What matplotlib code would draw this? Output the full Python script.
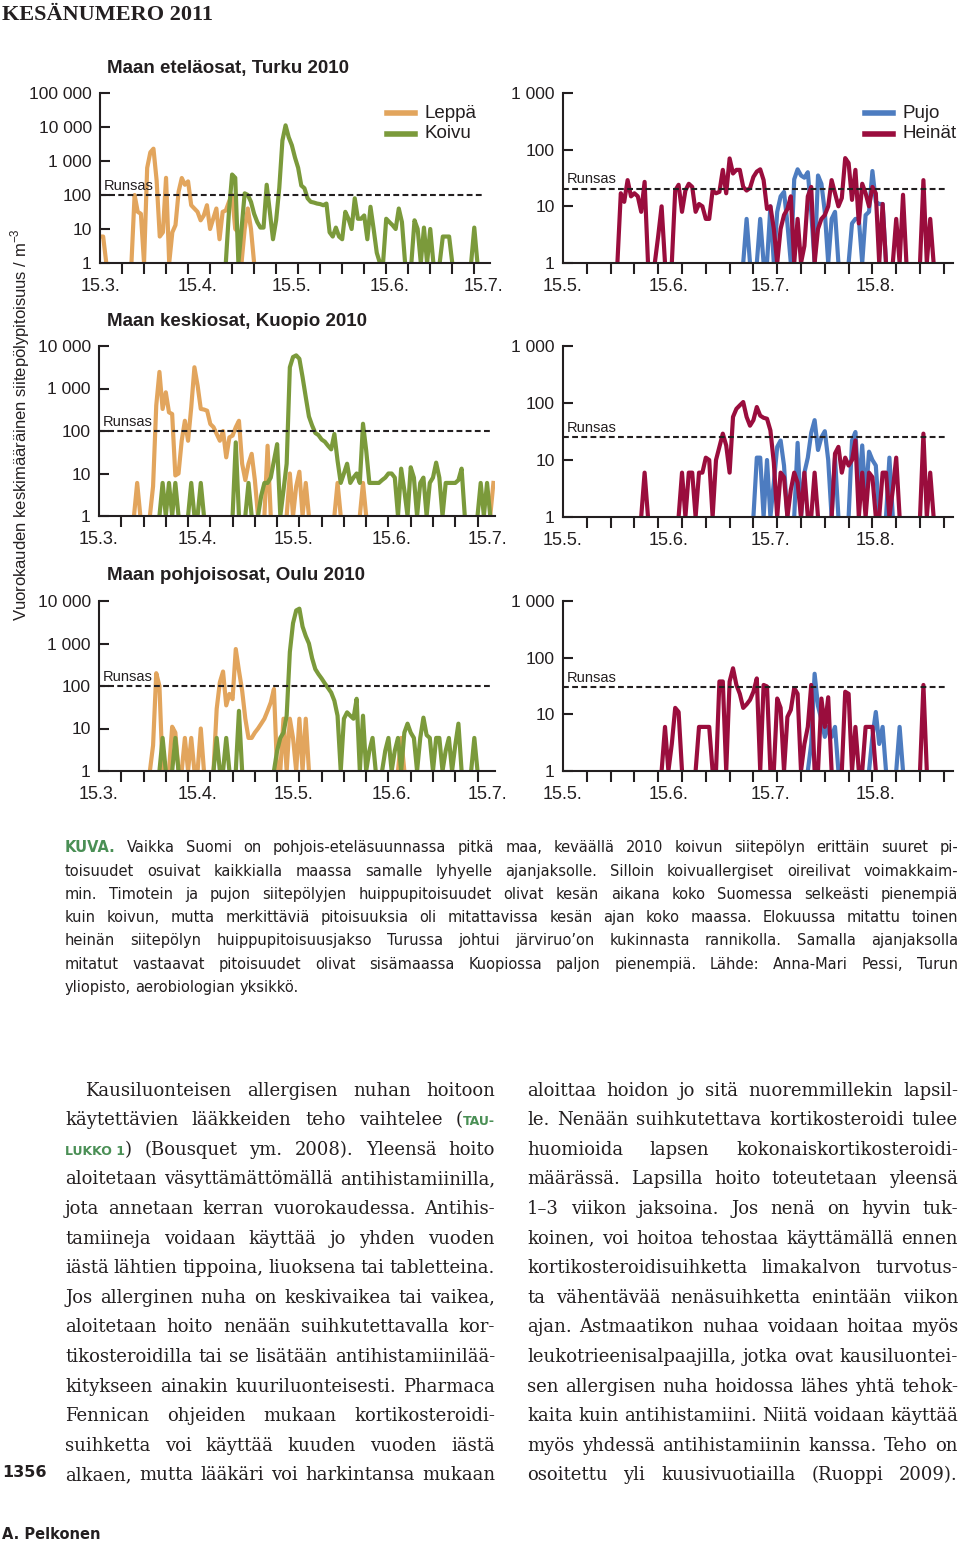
import re
import numpy as np
import matplotlib
matplotlib.use('Agg')
import matplotlib.pyplot as plt
import matplotlib.dates as mdates
from matplotlib.lines import Line2D
from matplotlib.ticker import NullLocator

NARROW = ['DejaVu Sans Condensed', 'Liberation Sans', 'DejaVu Sans']
SANS = ['DejaVu Sans']
SERIF = ['DejaVu Serif']
plt.rcParams['font.family'] = NARROW
plt.rcParams['text.color'] = '#231f20'
plt.rcParams['axes.edgecolor'] = '#231f20'
plt.rcParams['xtick.color'] = '#231f20'
plt.rcParams['ytick.color'] = '#231f20'

LEPPA = '#e2a55d'
KOIVU = '#7b9a3b'
PUJO = '#4d7cc0'
HEINAT = '#9a0d3d'
GREEN_TXT = '#4a8f55'

# --- data: daily mean pollen counts / m3 (0 = none, None = no line) ---
left_months = ['2010-03-15', '2010-04-15', '2010-05-15', '2010-06-15', '2010-07-15']
left_month_labels = ['15.3.', '15.4.', '15.5.', '15.6.', '15.7.']
right_months = ['2010-05-15', '2010-06-15', '2010-07-15', '2010-08-15']
right_month_labels = ['15.5.', '15.6.', '15.7.', '15.8.']

ticks_big = [1, 10, 100, 1000, 10000, 100000]
ticks_big_labels = ['1', '10', '100', '1 000', '10 000', '100 000']
ticks_mid = [1, 10, 100, 1000, 10000]
ticks_mid_labels = ['1', '10', '100', '1 000', '10 000']
ticks_small = [1, 10, 100, 1000]
ticks_small_labels = ['1', '10', '100', '1 000']

# Turku
turku_leppa_start = '2010-03-15'
turku_leppa = [6, 6, 0, None, None, None, None, None, None, None,
               0, 100, 32, 28, 0, 630, 1800, 2300, 270, 6,
               8, 320, 0, 8, 13, 126, 316, 200, 251, 50,
               40, 32, 18, 25, 50, 10, 20, 40, 5, 32,
               35, 63, 100, 10, 8, 0, 10, 40, 10, 0]
turku_koivu_start = '2010-04-24'
turku_koivu = [0, 32, 400, 320, 0, 10, 112, 100, 63, 28,
               16, 11, 11, 200, 32, 5, 18, 160, 4000, 11200,
               5000, 2900, 1260, 630, 190, 158, 80, 63, 60, 56,
               54, 50, 56, 8, 6, 11, 6, 5, 32, 20,
               10, 80, 20, 20, 25, 5, 45, 10, 2, 0,
               0, 20, 16, 13, 10, 40, 16, 0, None, 0,
               18, 10, 0, 11, 0, 10, 0, None, 0, 6,
               6, 6, 0, None, None, None, None, None, 0, 11,
               0]
turku_heinat_start = '2010-05-31'
turku_heinat = [0, 17, 12, 29, 15, 17, 15, 8, 27, 0,
                None, 0, 3, 10, 0, None, 0, 19, 24, 8,
                19, 25, 22, 8, 11, 10, 6, 6, 19, 17,
                18, 44, 17, 70, 38, 44, 44, 22, 19, 21,
                33, 41, 45, 29, 9, 10, 4, 0, 4, 7,
                9, 15, 0, 6, 0, 2, 15, 22, 0, 4,
                6, 7, 10, 29, 17, 10, 14, 71, 58, 13,
                44, 5, 25, 17, 10, 22, 17, 0, 11, 0,
                None, 0, 6, 0, 16, 0, None, None, None, 0,
                29, 0, 6, 0]
turku_pujo_start = '2010-07-07'
turku_pujo = [0, 6, 0, None, 0, 6, 0, 0, 10, 0,
              8, 15, 18, 5, 0, 30, 45, 35, 32, 40,
              8, 0, 35, 25, 8, 0, 6, 8, 0, None,
              None, 0, 5, 6, 6, 0, 7, 8, 42, 12,
              11, 11, 0]

# Kuopio
kuopio_leppa_start = '2010-03-26'
kuopio_leppa = ([0, 6, 0, None, None, 0, 5, 400, 2455, 330,
                 813, 275, 251, 9, 10, 59, 174, 59, 360, 3160,
                 1175, 331, 320, 300, 146, 123, 85, 59, 100, 24,
                 71, 78, 123, 174, 17, 7, 17, 29, 7, 0,
                 None, 0, 45, 0, None, None, None, None, 0, 10,
                 0, 5, 11, 0, 6, 0]
                + [None] * 7 + [0, 6, 0] + [None] * 5 + [0, 6, 0]
                + [None] * 38 + [0, 6])
kuopio_koivu_start = '2010-04-03'
kuopio_koivu = ([0, 6, 0, 6, 0, 6, 0, None, None,
                 0, 6, 0, 0, 6, 0]
                + [None] * 8
                + [0, 54, 0, None, 0, 6, 0, None,
                   0, 3, 6, 6, 8, 20, 49, 0, 4, 17,
                   3160, 5500, 6026, 5000, 1862, 630, 220, 135, 90, 80,
                   63, 56, 45, 37, 85, 20, 6, 10, 17, 6,
                   8, 10, 6, 148, 35, 6, 6, 6, 6, 7,
                   8, 10, 10, 8, 0, 13, 4, 0, 14, 8,
                   0, 6, 8, 0, 6, 8, 18, 8, 0, 6,
                   6, 6, 6, 7, 13, 0, None, None, None,
                   0, 6, 0, 6, 0])
kuopio_heinat_start = '2010-06-07'
kuopio_heinat = ([0, 6, 0] + [None] * 8
                 + [0, 6, 0, 6, 6, 0, 6, 6, 11, 10,
                    0, 10, 17, 29, 18, 6, 57, 79, 91, 104,
                    57, 40, 50, 85, 60, 55, 53, 33, 9, 0,
                    6, 5, 0, 3, 6, 4, 0, 6, 0, 0, 6, 0,
                    None, None, None,
                    0, 13, 17, 6, 11, 8, 10, 22, 0, 6,
                    0, 6, 5, 0, 0, 6, 6, 0, 3, 11, 0]
                 + [None] * 5 + [0, 29, 0, 6, 0])
kuopio_pujo_start = '2010-07-10'
kuopio_pujo = [0, 11, 11, 0, 10, 0, 4, 17, 22, 8,
               0, None, 0, 20, 0, 6, 11, 30, 50, 15,
               25, 32, 10, 0, 11, 0, None, None, 0, 22,
               31, 3, 18, 2, 14, 10, 8, 0, None, 0,
               11, 0]

# Oulu
oulu_leppa_start = '2010-03-31'
oulu_leppa = ([0, 4, 200, 100, 0, None, 0, 11, 8, 0,
               0, 6, 0, 6, 0, 0, 10, 0, None, None,
               0, 29, 123, 219, 35, 65, 49, 741, 229, 78,
               17, 6, 6, 8, 10, 13, 17, 26, 41, 85,
               0, 0, 17, 0, 17, 6, 0, 17, 0, 17, 0]
              + [None] * 27 + [0, 6, 0])
oulu_koivu_start = '2010-04-03'
oulu_koivu = ([0, 6, 0, None, 0, 6, 0] + [None] * 10
              + [0, 6, 0, 0, 6, 0, None, 0, 26, 0] + [None] * 9
              + [0, 3, 6, 8, 20, 631, 3000, 6000, 6600, 2500,
                 1500, 1000, 450, 250, 190, 150, 115, 90, 70, 45,
                 20, 0, 17, 24, 20, 17, 50, 0, 20, 0,
                 3, 6, 0, None, 0, 3, 6, 0, 3, 6,
                 0, 8, 13, 8, 6, 0, 6, 18, 7, 6,
                 0, 6, 6, 0, 3, 6, 0, 4, 13, 0,
                 None, None, 0, 6, 0])
oulu_heinat_start = '2010-06-13'
oulu_heinat = ([0, 6, 0, 3, 13, 11, 0, None, None, None,
                0, 6, 6, 6, 6, 0, 0, 38, 38, 0,
                38, 65, 33, 23, 13, 15, 18, 25, 43, 0,
                33, 31, 0, 0, 19, 13, 0, 9, 12, 29,
                23, 0, 3, 6, 33, 0, 0, 19, 6, 20, 0,
                None, None,
                0, 25, 23, 0, 6, 0, 0, 6, 6, 6, 0]
               + [None] * 12 + [0, 33, 0])
oulu_pujo_start = '2010-07-26'
oulu_pujo = ([0, 3, 52, 14, 8, 4, 6, 4, 6, 0] + [None] * 8
             + [0, 4, 11, 3, 6, 0, None, None, 0, 6, 0])

runsas = {'tl': 100, 'tr': 20, 'ml': 100, 'mr': 25, 'bl': 100, 'br': 30}

W, H = 960, 1543
fig = plt.figure(figsize=(W / 100, H / 100), dpi=100)


def fy(y):
    return 1 - y / H


def panel(rect, start, span, yt, ytl, months, mlabels, series, limit):
    x0, y0, x1, y1 = rect
    ax = fig.add_axes([x0 / W, fy(y1), (x1 - x0) / W, (y1 - y0) / H])
    t0 = mdates.date2num(np.datetime64(start))
    for s, vals, color in series:
        v = np.array(vals, dtype=float)
        v[v == 0] = 1
        x = mdates.date2num(np.datetime64(s)) + np.arange(len(v))
        ax.plot(x, v, color=color, lw=3)
    ax.set_yscale('log')
    ax.set_ylim(1, yt[-1])
    ax.set_xlim(t0, t0 + span)
    ax.set_yticks(yt)
    ax.set_yticklabels(ytl)
    ax.yaxis.set_minor_locator(NullLocator())
    ax.set_xticks([mdates.date2num(np.datetime64(m)) for m in months])
    ax.set_xticklabels(mlabels)
    ax.set_xticks(np.arange(t0, t0 + span, 7), minor=True)
    ax.tick_params(axis='y', direction='in', length=7, width=1.5, pad=6, labelsize=12.5)
    ax.tick_params(axis='x', which='major', length=0, pad=11, labelsize=13)
    ax.tick_params(axis='x', which='minor', direction='out', length=8, width=1.5)
    for side in ('top', 'right'):
        ax.spines[side].set_visible(False)
    for side in ('left', 'bottom'):
        ax.spines[side].set_linewidth(1.5)
    ax.patch.set_visible(False)
    ax.axhline(limit, xmin=0, xmax=0.987, color='#231f20', lw=1.5, ls=(0, (2.8, 1.6)))
    ax.text(t0 + span * 0.01, limit * 1.12, 'Runsas', fontsize=10.5, va='bottom', ha='left')
    return ax


panel((100, 93, 490, 263), '2010-03-15', 124, ticks_big, ticks_big_labels,
      left_months, left_month_labels,
      [(turku_leppa_start, turku_leppa, LEPPA), (turku_koivu_start, turku_koivu, KOIVU)],
      runsas['tl'])
panel((563, 93, 953, 263), '2010-05-15', 114.7, ticks_small, ticks_small_labels,
      right_months, right_month_labels,
      [(turku_pujo_start, turku_pujo, PUJO), (turku_heinat_start, turku_heinat, HEINAT)],
      runsas['tr'])
panel((99, 346, 495, 516), '2010-03-15', 124.5, ticks_mid, ticks_mid_labels,
      left_months, left_month_labels,
      [(kuopio_leppa_start, kuopio_leppa, LEPPA), (kuopio_koivu_start, kuopio_koivu, KOIVU)],
      runsas['ml'])
panel((563, 346, 953, 517), '2010-05-15', 114.7, ticks_small, ticks_small_labels,
      right_months, right_month_labels,
      [(kuopio_pujo_start, kuopio_pujo, PUJO), (kuopio_heinat_start, kuopio_heinat, HEINAT)],
      runsas['mr'])
panel((99, 601, 495, 771), '2010-03-15', 124.5, ticks_mid, ticks_mid_labels,
      left_months, left_month_labels,
      [(oulu_leppa_start, oulu_leppa, LEPPA), (oulu_koivu_start, oulu_koivu, KOIVU)],
      runsas['bl'])
panel((563, 601, 953, 771), '2010-05-15', 114.7, ticks_small, ticks_small_labels,
      right_months, right_month_labels,
      [(oulu_pujo_start, oulu_pujo, PUJO), (oulu_heinat_start, oulu_heinat, HEINAT)],
      runsas['br'])

# titles, legends, axis label
for y, t in [(68, 'Maan eteläosat, Turku 2010'), (321, 'Maan keskiosat, Kuopio 2010'),
             (576, 'Maan pohjoisosat, Oulu 2010')]:
    fig.text(107 / W, fy(y), t, va='center', ha='left', fontsize=13.5, weight='bold')


def legend(items, x, y):
    for i, (name, color) in enumerate(items):
        yy = y + i * 21
        fig.add_artist(Line2D([x / W, (x + 28) / W], [fy(yy), fy(yy)], color=color, lw=4))
        fig.text((x + 38) / W, fy(yy), name, va='center', fontsize=13.5)


legend([('Leppä', LEPPA), ('Koivu', KOIVU)], 387, 113)
legend([('Pujo', PUJO), ('Heinät', HEINAT)], 865, 113)

fig.text(20 / W, fy(425), r'Vuorokauden keskimääräinen siitepölypitoisuus / m$^{\mathregular{-3}}$',
         rotation=90, va='center', ha='center', fontsize=12)

fig.text(2 / W, fy(20), 'KESÄNUMERO 2011', family=['Liberation Serif', 'DejaVu Serif'],
         weight='bold', fontsize=16, va='baseline')

# --- running text ---
renderer = fig.canvas.get_renderer()
styles = {
    'cap': dict(family=SANS, fontsize=10.5),
    'kuva': dict(family=SANS, fontsize=10.5, weight='bold', color=GREEN_TXT),
    'body': dict(family=SERIF, fontsize=13),
    'sc': dict(family=SANS, fontsize=9, weight='bold', color=GREEN_TXT),
}


def set_line(line, base, accent, x0, x1, y, justify=True):
    segs = []
    for part in re.split(r'(\{[^}]*\})', line):
        if part.startswith('{'):
            segs.append((part[1:-1].replace(' ', '\u00a0'), accent))
        elif part:
            segs.append((part, base))
    words, new = [], True
    for text, st in segs:
        for i, p in enumerate(text.split(' ')):
            if i > 0:
                new = True
            if p == '':
                continue
            if new:
                words.append([])
                new = False
            words[-1].append((p, st))
    items = []
    for w in words:
        pieces = []
        for p, st in w:
            t = fig.text(0, fy(y), p, va='baseline', ha='left', **styles[st])
            pieces.append((t, t.get_window_extent(renderer).width))
        items.append(pieces)
    total = sum(wd for pcs in items for _, wd in pcs)
    size = styles[base]['fontsize'] * 100 / 72
    gap = (x1 - x0 - total) / max(len(items) - 1, 1) if justify else size * 0.3
    x = x0
    for pcs in items:
        for t, wd in pcs:
            t.set_x(x / W)
            x += wd
        x += gap


caption = [
    '{KUVA.} Vaikka Suomi on pohjois-eteläsuunnassa pitkä maa, keväällä 2010 koivun siitepölyn erittäin suuret pi-',
    'toisuudet osuivat kaikkialla maassa samalle lyhyelle ajanjaksolle. Silloin koivuallergiset oireilivat voimakkaim-',
    'min. Timotein ja pujon siitepölyjen huippupitoisuudet olivat kesän aikana koko Suomessa selkeästi pienempiä',
    'kuin koivun, mutta merkittäviä pitoisuuksia oli mitattavissa kesän ajan koko maassa. Elokuussa mitattu toinen',
    'heinän siitepölyn huippupitoisuusjakso Turussa johtui järviruo’on kukinnasta rannikolla. Samalla ajanjaksolla',
    'mitatut vastaavat pitoisuudet olivat sisämaassa Kuopiossa paljon pienempiä. Lähde: Anna-Mari Pessi, Turun',
    'yliopisto, aerobiologian yksikkö.',
]
for i, line in enumerate(caption):
    set_line(line, 'cap', 'kuva', 65, 958, 852.3 + i * 23.3, justify=i < len(caption) - 1)

left_col = [
    'Kausiluonteisen allergisen nuhan hoitoon',
    'käytettävien lääkkeiden teho vaihtelee ({TAU-}',
    '{LUKKO 1}) (Bousquet ym. 2008). Yleensä hoito',
    'aloitetaan väsyttämättömällä antihistamiinilla,',
    'jota annetaan kerran vuorokaudessa. Antihis-',
    'tamiineja voidaan käyttää jo yhden vuoden',
    'iästä lähtien tippoina, liuoksena tai tabletteina.',
    'Jos allerginen nuha on keskivaikea tai vaikea,',
    'aloitetaan hoito nenään suihkutettavalla kor-',
    'tikosteroidilla tai se lisätään antihistamiinilää-',
    'kitykseen ainakin kuuriluonteisesti. Pharmaca',
    'Fennican ohjeiden mukaan kortikosteroidi-',
    'suihketta voi käyttää kuuden vuoden iästä',
    'alkaen, mutta lääkäri voi harkintansa mukaan',
]
right_col = [
    'aloittaa hoidon jo sitä nuoremmillekin lapsil-',
    'le. Nenään suihkutettava kortikosteroidi tulee',
    'huomioida lapsen kokonaiskortikosteroidi-',
    'määrässä. Lapsilla hoito toteutetaan yleensä',
    '1–3 viikon jaksoina. Jos nenä on hyvin tuk-',
    'koinen, voi hoitoa tehostaa käyttämällä ennen',
    'kortikosteroidisuihketta limakalvon turvotus-',
    'ta vähentävää nenäsuihketta enintään viikon',
    'ajan. Astmaatikon nuhaa voidaan hoitaa myös',
    'leukotrieenisalpaajilla, jotka ovat kausiluontei-',
    'sen allergisen nuha hoidossa lähes yhtä tehok-',
    'kaita kuin antihistamiini. Niitä voidaan käyttää',
    'myös yhdessä antihistamiinin kanssa. Teho on',
    'osoitettu yli kuusivuotiailla (Ruoppi 2009).',
]
for i, line in enumerate(left_col):
    set_line(line, 'body', 'sc', 85 if i == 0 else 65, 495, 1095.5 + i * 29.6)
for i, line in enumerate(right_col):
    set_line(line, 'body', 'sc', 527, 958, 1095.5 + i * 29.6)

fig.text(2 / W, fy(1477), '1356', family=SANS, weight='bold', fontsize=11.5, va='baseline')
fig.text(2 / W, fy(1539), 'A. Pelkonen', family=SANS, weight='bold', fontsize=10.5, va='baseline')

fig.savefig('out.png', dpi=100)
